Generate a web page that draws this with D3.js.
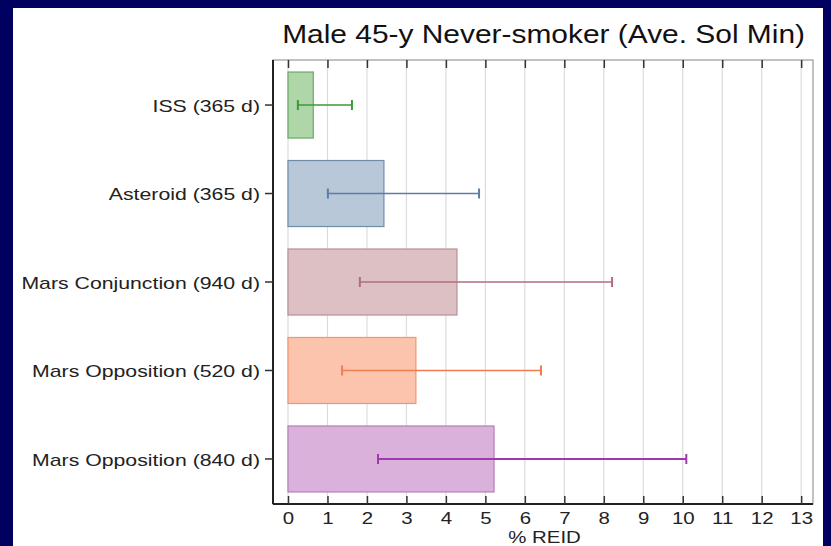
<!DOCTYPE html>
<html><head><meta charset="utf-8">
<script src="https://cdn.jsdelivr.net/npm/d3@7"></script>
<style>
html,body{margin:0;padding:0;background:#000060;}
svg{display:block;font-family:Arial,"Liberation Sans",sans-serif;}
</style></head>
<body>
<script>
const categories = ["ISS (365 d)", "Asteroid (365 d)", "Mars Conjunction (940 d)", "Mars Opposition (520 d)", "Mars Opposition (840 d)"];
const values = [0.64, 2.43, 4.28, 3.24, 5.22];
const lower = [0.25, 1.01, 1.82, 1.37, 2.28];
const upper = [1.62, 4.84, 8.21, 6.41, 10.09];
const xTicks = [0,1,2,3,4,5,6,7,8,9,10,11,12,13];
const fills = ["#aed6a8", "#b8c8d8", "#ddc0c4", "#fdc4ad", "#d9b1db"];
const strokes = ["#6aa866", "#6f8cab", "#b88f97", "#f29372", "#b57fb8"];
const errColors = ["#3a9a3a", "#5a7ea6", "#b06e7c", "#f07c52", "#a038b0"];
const title = "Male 45-y Never-smoker (Ave. Sol Min)";
const xLabel = "% REID";

const W = 831, H = 546;
const svg = d3.select("body").append("svg").attr("width", W).attr("height", H);
svg.append("rect").attr("width", W).attr("height", H).attr("fill", "#000060");
svg.append("rect").attr("x", 13).attr("y", 8).attr("width", 810).attr("height", H - 8).attr("fill", "#fff");

const L = 273, R = 813, T = 60, B = 504;
const x = d3.scaleLinear().domain([-0.38, 13.3]).range([L, R]);
const y = d3.scaleBand().domain(categories).range([T, B]).paddingInner(0.254).paddingOuter(0.136);

function stretch(sel, f) {
  sel.each(function () {
    const w = this.getComputedTextLength();
    d3.select(this).attr("textLength", w * f).attr("lengthAdjust", "spacingAndGlyphs");
  });
}

// grid
svg.append("g").selectAll("line").data(xTicks).join("line")
  .attr("x1", d => x(d)).attr("x2", d => x(d)).attr("y1", T).attr("y2", B)
  .attr("stroke", "#dcdcdc").attr("stroke-width", 1.2);

// bars
svg.append("g").selectAll("rect").data(categories).join("rect")
  .attr("x", x(0)).attr("y", d => y(d))
  .attr("width", (d, i) => x(values[i]) - x(0))
  .attr("height", y.bandwidth())
  .attr("fill", (d, i) => fills[i]).attr("stroke", (d, i) => strokes[i]).attr("stroke-width", 1.2);

// error bars
const eg = svg.append("g");
categories.forEach((c, i) => {
  const cy = y(c) + y.bandwidth() / 2;
  eg.append("line").attr("x1", x(lower[i])).attr("x2", x(upper[i])).attr("y1", cy).attr("y2", cy)
    .attr("stroke", errColors[i]).attr("stroke-width", i === 4 ? 2 : 1.4);
  [lower[i], upper[i]].forEach(v => {
    eg.append("line").attr("x1", x(v)).attr("x2", x(v)).attr("y1", cy - 5).attr("y2", cy + 5)
      .attr("stroke", errColors[i]).attr("stroke-width", 2);
  });
});

// frame
svg.append("rect").attr("x", L).attr("y", T).attr("width", R - L).attr("height", B - T)
  .attr("fill", "none").attr("stroke", "#999").attr("stroke-width", 1.2);
svg.append("line").attr("x1", L).attr("x2", L).attr("y1", T).attr("y2", B).attr("stroke", "#222").attr("stroke-width", 2);
svg.append("line").attr("x1", L).attr("x2", R).attr("y1", B).attr("y2", B).attr("stroke", "#222").attr("stroke-width", 2);

// bottom axis (ticks inward)
const xb = svg.append("g").attr("transform", `translate(0,${B})`)
  .call(d3.axisBottom(x).tickValues(xTicks).tickFormat(d3.format("d")).tickSizeInner(-8).tickSizeOuter(0).tickPadding(8));
xb.select(".domain").remove();
xb.selectAll(".tick line").attr("stroke", "#333").attr("stroke-width", 1.5);
xb.selectAll(".tick text").attr("font-size", 17).attr("fill", "#222").attr("font-family", "Arial, 'Liberation Sans', sans-serif")
  .call(stretch, 1.2);

// top ticks
const xt = svg.append("g").attr("transform", `translate(0,${T})`)
  .call(d3.axisTop(x).tickValues(xTicks).tickFormat("").tickSizeInner(-8).tickSizeOuter(0));
xt.select(".domain").remove();
xt.selectAll(".tick line").attr("stroke", "#333").attr("stroke-width", 1.5);

// left axis
const yl = svg.append("g").attr("transform", `translate(${L},0)`)
  .call(d3.axisLeft(y).tickSizeInner(8).tickSizeOuter(0).tickPadding(5));
yl.select(".domain").remove();
yl.selectAll(".tick line").attr("stroke", "#333").attr("stroke-width", 1.5);
yl.selectAll(".tick text").attr("font-size", 17).attr("fill", "#222").attr("font-family", "Arial, 'Liberation Sans', sans-serif")
  .attr("dy", "0.4em")
  .call(stretch, 1.25);

// title
svg.append("text").attr("x", 805).attr("y", 43).attr("text-anchor", "end")
  .attr("font-size", 26).attr("fill", "#111").text(title).call(stretch, 1.15);
// x label
svg.append("text").attr("x", x(6.5)).attr("y", 543).attr("text-anchor", "middle")
  .attr("font-size", 17).attr("fill", "#222").text(xLabel).call(stretch, 1.2);
</script>
</body></html>
